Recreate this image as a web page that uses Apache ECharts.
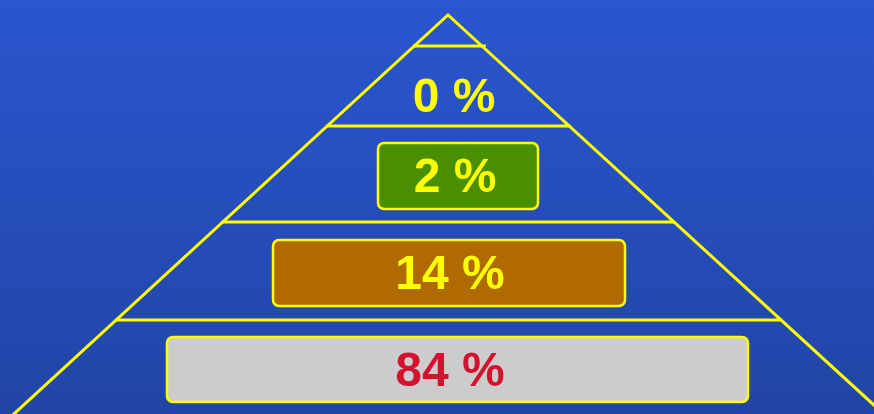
<!DOCTYPE html>
<html>
<head>
<meta charset="utf-8">
<script src="https://cdn.jsdelivr.net/npm/echarts@6/dist/echarts.min.js"></script>
<style>
  html, body { margin: 0; padding: 0; }
  #chart { width: 874px; height: 414px; }
</style>
</head>
<body>
<div id="chart"></div>
<script>
// Share of each pyramid tier, top to bottom
const tierNames = ['Tier 1', 'Tier 2', 'Tier 3', 'Tier 4'];
const shares = [0, 2, 14, 84];

// Layout in plot units (plot spans 0..874 by 0..414, y downward)
const APEX = [448, 15];
const SLOPE_L = 1.088;   // horizontal run per unit of drop, left side
const SLOPE_R = 1.092;   // right side
const DIVIDERS = [46, 126, 222, 320];
const TIER_BOX = [
  null,
  [378, 143, 538, 209],
  [273, 240, 625, 306],
  [167, 337, 748, 402]
];
const TIER_TEXT_POS = [[454, 99], [455, 179], [450, 276], [450, 373]];
const BOX_FILL = [null, '#4A8F00', '#B06A00', '#CCCCCC'];
const TEXT_FILL = ['#FFFF00', '#FFFF00', '#FFFF00', '#D4112E'];
const YELLOW = '#FFFF00';

const chart = echarts.init(document.getElementById('chart'));

function pyramidRender(params, api) {
  const children = [];
  const bottom = 440;
  const pl = api.coord([APEX[0] - SLOPE_L * (bottom - APEX[1]), bottom]);
  const pa = api.coord(APEX);
  const pr = api.coord([APEX[0] + SLOPE_R * (bottom - APEX[1]), bottom]);
  children.push({
    type: 'polyline',
    shape: { points: [pl, pa, pr] },
    style: { stroke: YELLOW, lineWidth: 3, fill: null }
  });
  DIVIDERS.forEach(function (y, i) {
    const extra = i === 0 ? 4 : 1;
    const a = api.coord([APEX[0] - SLOPE_L * (y - APEX[1]) - 1, y]);
    const b = api.coord([APEX[0] + SLOPE_R * (y - APEX[1]) + extra, y]);
    children.push({
      type: 'line',
      shape: { x1: a[0], y1: a[1], x2: b[0], y2: b[1] },
      style: { stroke: YELLOW, lineWidth: 3 }
    });
  });
  return { type: 'group', children: children };
}

function tierRender(params, api) {
  const i = api.value(0);
  const v = api.value(1);
  const children = [];
  const box = TIER_BOX[i];
  if (box) {
    const p0 = api.coord([box[0], box[1]]);
    const p1 = api.coord([box[2], box[3]]);
    children.push({
      type: 'rect',
      shape: { x: p0[0], y: p0[1], width: p1[0] - p0[0], height: p1[1] - p0[1], r: 6 },
      style: { fill: BOX_FILL[i], stroke: YELLOW, lineWidth: 2.5 }
    });
  }
  const t = api.coord(TIER_TEXT_POS[i]);
  children.push({
    type: 'text',
    x: t[0],
    y: t[1],
    style: {
      text: v + ' %',
      fill: TEXT_FILL[i],
      font: 'bold 48px "Liberation Sans", Arial, sans-serif',
      align: 'center',
      verticalAlign: 'middle'
    }
  });
  return { type: 'group', children: children };
}

chart.setOption({
  animation: false,
  backgroundColor: new echarts.graphic.LinearGradient(0, 0, 0, 1, [
    { offset: 0, color: '#2A56CF' },
    { offset: 1, color: '#2145A6' }
  ]),
  grid: { left: 0, right: 0, top: 0, bottom: 0 },
  xAxis: { type: 'value', min: 0, max: 874, show: false },
  yAxis: { type: 'value', min: 0, max: 414, inverse: true, show: false },
  series: [
    {
      type: 'custom',
      name: 'pyramid',
      renderItem: pyramidRender,
      data: [[0, 0]],
      clip: true,
      silent: true
    },
    {
      type: 'custom',
      name: 'share',
      renderItem: tierRender,
      data: shares.map(function (v, i) { return { name: tierNames[i], value: [i, v] }; }),
      clip: false
    }
  ]
});
</script>
</body>
</html>
